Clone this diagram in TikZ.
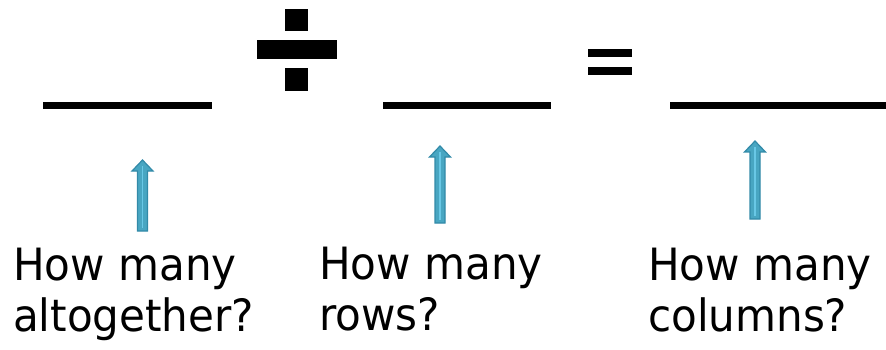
\documentclass[tikz,border=0pt]{standalone}
\usepackage{fontspec}
\setmainfont{DejaVu Sans}[FakeStretch=0.945]
\definecolor{arrfill}{RGB}{72,166,194}
\definecolor{arrline}{RGB}{50,138,168}
\definecolor{arrhi}{RGB}{105,200,230}
\tikzset{
  lbl/.style={inner sep=0pt, anchor=base west, font=\fontsize{44.5}{51}\selectfont, text=black},
  blank/.style={fill=black, draw=none},
  sym/.style={fill=black, draw=none},
  uparrow/.pic={
    \filldraw[fill=arrfill, draw=arrline, line width=1.2pt, line join=miter]
      (0,0) -- (10.5,11) -- (5,11) -- (5,#1) -- (-5,#1) -- (-5,11) -- (-10.5,11) -- cycle;
    \draw[arrhi, line width=1.5pt] (0,6) -- (0,#1-3);
  }
}
\begin{document}
\begin{tikzpicture}[x=1pt, y=-1pt]
\useasboundingbox (0,0) rectangle (886,350);
% blanks
\fill[blank] (43,102) rectangle (212,109);
\coordinate (b1) at (127.5,105.5);
\fill[blank] (383,102) rectangle (551,109);
\coordinate (b2) at (467,105.5);
\fill[blank] (670,102) rectangle (886,109);
\coordinate (b3) at (778,105.5);
% division sign
\fill[sym] (285,9) rectangle (308,31);
\fill[sym] (257,40) rectangle (337,59);
\fill[sym] (285,68) rectangle (308,91);
% equals sign
\fill[sym] (588,49) rectangle (632,57);
\fill[sym] (588,67) rectangle (632,75);
% arrows
\pic at (142.5,160) {uparrow=71};
\pic at (440,146) {uparrow=77};
\pic at (755,141) {uparrow=78};
% labels
\node[lbl] (t1a) at (13,280) {How many};
\node[lbl] (t1b) at (13,331) {altogether?};
\node[lbl] (t2a) at (319,279) {How many};
\node[lbl] (t2b) at (319,330) {rows?};
\node[lbl] (t3a) at (648,280) {How many};
\node[lbl] (t3b) at (648,331) {columns?};
\end{tikzpicture}
\end{document}
